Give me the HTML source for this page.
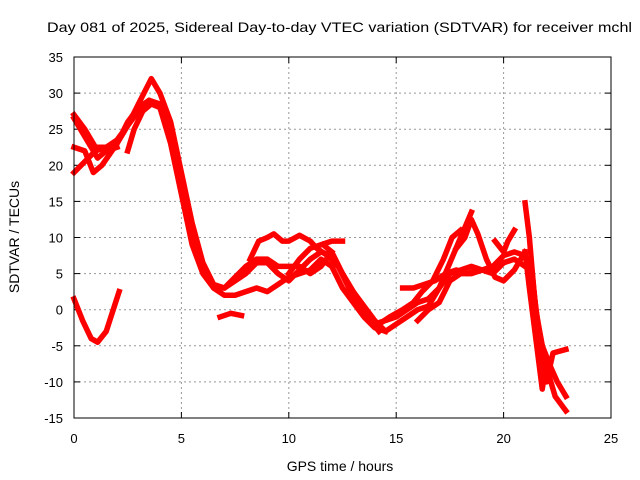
<!DOCTYPE html>
<html><head><meta charset="utf-8"><style>
body{margin:0;background:#fff;}
svg{display:block;font-family:"Liberation Sans",sans-serif;}
</style></head><body>
<svg id="chart" width="640" height="480">
<text x="47" y="32" font-size="14" fill="#000" textLength="585" lengthAdjust="spacingAndGlyphs">Day 081 of 2025, Sidereal Day-to-day VTEC variation (SDTVAR) for receiver mchl</text>
<g id="grid"></g><g id="ticks"></g><g id="series"></g>
<rect x="74" y="57" width="537" height="361" fill="none" stroke="#000" stroke-width="1"/>
<text x="340" y="471" font-size="14" text-anchor="middle">GPS time / hours</text>
<text transform="translate(19,237) rotate(-90)" font-size="14" text-anchor="middle">SDTVAR / TECUs</text>
</svg>
<script>
const xTicks=[0,5,10,15,20,25];
const yTicks=[-15,-10,-5,0,5,10,15,20,25,30,35];
const s1=[[0,1.5],[0.4,-1.5],[0.8,-4],[1.1,-4.5],[1.5,-3],[2.1,2.5]];
const s2=[[0,27],[0.5,25],[1,22.5],[1.5,22.5],[2,23.5],[2.5,25.5],[3,27.5],[3.5,29],[4,28.5],[4.5,25],[5,18],[5.5,11],[6,6],[6.5,3],[7,2],[7.5,2],[8,2.5],[8.5,3],[9,2.5],[9.5,3.5],[10,4.5],[10.5,5],[11,5.5],[11.5,7],[12,6],[12.5,3],[13,1],[13.5,-1],[14,-2.5],[14.5,-3]];
const s3=[[0,22.5],[0.5,22],[0.9,19],[1.3,20],[2,23],[2.5,26],[3,28],[3.5,29],[4,28],[4.5,23],[5,16],[5.5,9],[6,5],[6.5,3],[7,3],[7.5,4],[8,5],[8.5,6.5],[9,6.5],[9.5,5],[10,4],[10.5,5.5],[11,7],[11.5,8],[12,7.5],[12.5,5],[13,2.5],[13.5,0],[14,-2],[14.5,-1.5],[15,-1],[15.5,0],[16,1],[16.5,1.5],[17,3],[17.5,5],[18,5.5],[18.5,6],[19,5.5],[19.5,5],[20,6.5],[20.5,7],[21,6]];
const s4=[[0,19],[0.5,20.5],[1,22],[1.5,22.5],[2,23],[2.5,25.5],[3,28.5],[3.6,32],[4,30],[4.5,26],[5,19],[5.5,12],[6,6.5],[6.5,3.5],[7,3],[7.5,4.5],[8,6],[8.5,7],[9,7],[9.5,6],[10,6],[10.5,6],[11,5],[11.5,6],[12,8]];
const s5=[[0,26.5],[0.4,24.5],[0.8,22.5],[1.1,21],[1.5,22],[2,22.5]];
const s6=[[2.5,22],[2.8,25],[3.2,27.5],[3.6,28.5],[4,28],[4.3,27],[4.5,24]];
const s7=[[6.8,-1],[7.3,-0.5],[7.8,-0.8]];
const s8=[[8.2,7],[8.6,9.5],[9,10],[9.3,10.5],[9.7,9.5],[10,9.5],[10.5,10.3],[11,9.5],[11.3,8.5],[11.8,7.5],[12.3,6],[12.8,3],[13.3,1],[13.8,-1.5],[14.2,-3]];
const s9=[[10,5],[10.5,7],[11,8.5],[11.5,9],[12,9.5],[12.5,9.5]];
const s10=[[11.6,9],[12,8],[12.5,5],[13,2.5],[13.5,0.5],[14,-1.5],[14.5,-3],[15,-2],[15.5,-1],[16,0],[16.5,0.5],[17,3],[17.5,6.5],[18,10],[18.5,13.5]];
const s11=[[14.2,-2],[14.7,-1],[15.3,0],[15.8,1],[16.2,2.5],[16.7,4],[17.2,7],[17.6,10],[18,11]];
const s12=[[15.3,3],[15.8,3],[16.3,3.5],[16.8,4],[17.3,5],[17.8,5.5],[18.3,5],[18.8,5.5],[19.2,5.5],[19.6,6],[20,6.5]];
const s13=[[17.8,8.5],[18.2,10],[18.5,12.5],[18.8,10.5],[19.2,7],[19.6,4.5],[20,4],[20.5,5.5],[21,8]];
const s14=[[19.6,9.5],[20,8],[20.2,9.5],[20.5,11]];
const s15=[[16,-1.5],[16.5,0],[17,1],[17.5,4],[18,5],[18.5,5],[19,5.5],[19.5,6],[20,7.5],[20.5,8],[21,7.5],[21.3,5],[21.6,-2],[22,-8],[22.4,-12],[22.9,-14]];
const s16=[[21,14.8],[21.2,10],[21.4,3],[21.6,-3],[21.8,-8],[22,-10],[22.3,-6],[22.9,-5.5]];
const s17=[[21.3,6],[21.5,0],[21.8,-5],[22.2,-8],[22.5,-10],[22.9,-12]];
const s18=[[21,8],[21.2,3],[21.5,-4],[21.8,-11],[22,-7]];
const allSeries=[s1,s2,s3,s4,s5,s6,s7,s8,s9,s10,s11,s12,s13,s14,s15,s16,s17,s18];
const X=v=>74+v*537/25, Y=v=>418-(v+15)*361/50;
const NS='http://www.w3.org/2000/svg';
const grid=document.getElementById('grid'),ticks=document.getElementById('ticks'),ser=document.getElementById('series');
function mk(tag,attrs,parent){const e=document.createElementNS(NS,tag);for(const k in attrs)e.setAttribute(k,attrs[k]);parent.appendChild(e);return e;}
xTicks.forEach(t=>{
  if(t>0&&t<25){const g=mk('line',{x1:X(t),x2:X(t),y1:57,y2:418,stroke:'#999','stroke-dasharray':'2,3'},grid);
  
  }
  mk('line',{x1:X(t),x2:X(t),y1:418,y2:412,stroke:'#000'},ticks);
  mk('line',{x1:X(t),x2:X(t),y1:57,y2:63,stroke:'#000'},ticks);
  const l=mk('text',{x:X(t),y:443,'font-size':13,'text-anchor':'middle'},ticks);l.textContent=t;
  
  
});
yTicks.forEach(t=>{
  if(t>-15&&t<35){const g=mk('line',{x1:74,x2:611,y1:Y(t),y2:Y(t),stroke:'#999','stroke-dasharray':'2,3'},grid);
  
  }
  mk('line',{x1:74,x2:80,y1:Y(t),y2:Y(t),stroke:'#000'},ticks);
  mk('line',{x1:611,x2:605,y1:Y(t),y2:Y(t),stroke:'#000'},ticks);
  const l=mk('text',{x:63,y:Y(t)+5,'font-size':13,'text-anchor':'end'},ticks);l.textContent=t;
  
  
});
allSeries.forEach((s,i)=>{
  const p=mk('polyline',{points:s.map(d=>X(d[0])+','+Y(d[1])).join(' '),fill:'none',stroke:'#f00','stroke-width':5.5,'stroke-linejoin':'round','stroke-linecap':'square'},ser);
  
  
});
</script>
</body></html>
